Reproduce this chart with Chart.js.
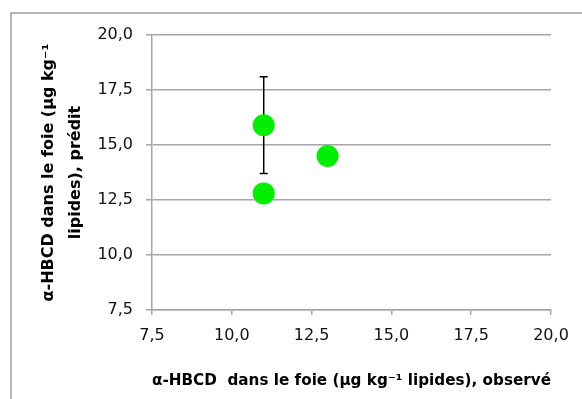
<!DOCTYPE html>
<html>
<head>
<meta charset="utf-8">
<script src="https://cdn.jsdelivr.net/npm/chart.js@4"></script>
<style>
  html, body { margin: 0; padding: 0; background: #fff; }
  #wrap { width: 582px; height: 399px; position: relative; }
</style>
</head>
<body>
<div id="wrap"><canvas id="chart"></canvas></div>
<script>
// observed vs predicted alpha-HBCD in liver (µg/kg lipids)
const observed = [11.0, 11.0, 13.0];
const predicted = [15.9, 12.8, 14.5];
const errUp = [2.2, 0, 0];
const errDown = [2.2, 0, 0];
const axisMin = 7.5;
const axisMax = 20.0;
const axisStep = 2.5;

const gridColor = '#a6a6a6';
const fontFamily = '"DejaVu Sans", sans-serif';

const points = observed.map((x, i) => ({ x: x, y: predicted[i] }));

function frenchTick(value) {
    return value.toFixed(1).replace('.', ',');
}

// frame around the chart
const frame = {
    id: 'frame',
    beforeDraw(chart) {
        const c = chart.ctx;
        c.save();
        c.strokeStyle = '#a0a0a0';
        c.lineWidth = 1.5;
        c.beginPath();
        c.moveTo(11, chart.height + 2);
        c.lineTo(11, 13);
        c.lineTo(chart.width + 2, 13);
        c.stroke();
        c.restore();
    }
};

// vertical error bars, drawn behind the markers
const errorBars = {
    id: 'errorBars',
    beforeDatasetsDraw(chart) {
        const c = chart.ctx;
        const xs = chart.scales.x;
        const ys = chart.scales.y;
        c.save();
        c.strokeStyle = '#000';
        c.lineWidth = 1.5;
        for (let i = 0; i < observed.length; i++) {
            if (!errUp[i] && !errDown[i]) continue;
            const px = xs.getPixelForValue(observed[i]);
            const top = ys.getPixelForValue(predicted[i] + errUp[i]);
            const bottom = ys.getPixelForValue(predicted[i] - errDown[i]);
            c.beginPath();
            c.moveTo(px, top);
            c.lineTo(px, bottom);
            c.moveTo(px - 4, top);
            c.lineTo(px + 4, top);
            c.moveTo(px - 4, bottom);
            c.lineTo(px + 4, bottom);
            c.stroke();
        }
        c.restore();
    }
};

new Chart(document.getElementById('chart'), {
    type: 'scatter',
    data: {
        datasets: [{
            data: points,
            pointRadius: 11,
            pointHoverRadius: 11,
            pointBackgroundColor: '#00ee00',
            pointBorderColor: '#00ee00',
            pointBorderWidth: 0
        }]
    },
    options: {
        responsive: true,
        maintainAspectRatio: false,
        animation: false,
        layout: { padding: { top: 35, right: 31, left: 0, bottom: 0 } },
        plugins: {
            legend: { display: false },
            tooltip: { enabled: false }
        },
        scales: {
            x: {
                min: axisMin,
                max: axisMax,
                afterFit: (scale) => { scale.height = 89; },
                ticks: {
                    stepSize: axisStep,
                    color: '#111',
                    padding: 11,
                    font: { family: fontFamily, size: 16 },
                    callback: frenchTick
                },
                grid: {
                    drawOnChartArea: false,
                    color: gridColor,
                    tickLength: 5,
                    lineWidth: 1.5
                },
                border: { color: gridColor, width: 1.5 },
                title: {
                    display: true,
                    text: 'α-HBCD  dans le foie (µg kg⁻¹ lipides), observé',
                    color: '#000',
                    font: { family: fontFamily, size: 16, weight: 'bold' },
                    padding: { top: 4, bottom: 9 }
                }
            },
            y: {
                min: axisMin,
                max: axisMax,
                afterFit: (scale) => { scale.width = 152; },
                ticks: {
                    stepSize: axisStep,
                    color: '#111',
                    padding: 13,
                    font: { family: fontFamily, size: 16 },
                    callback: frenchTick
                },
                grid: {
                    color: gridColor,
                    tickLength: 6,
                    lineWidth: 1.5
                },
                border: { color: gridColor, width: 1.5 },
                title: {
                    display: true,
                    text: ['α-HBCD dans le foie (µg kg⁻¹', 'lipides), prédit'],
                    color: '#000',
                    font: { family: fontFamily, size: 16, weight: 'bold', lineHeight: '27px' },
                    padding: { top: 35, bottom: 0 }
                }
            }
        }
    },
    plugins: [frame, errorBars]
});
</script>
</body>
</html>
